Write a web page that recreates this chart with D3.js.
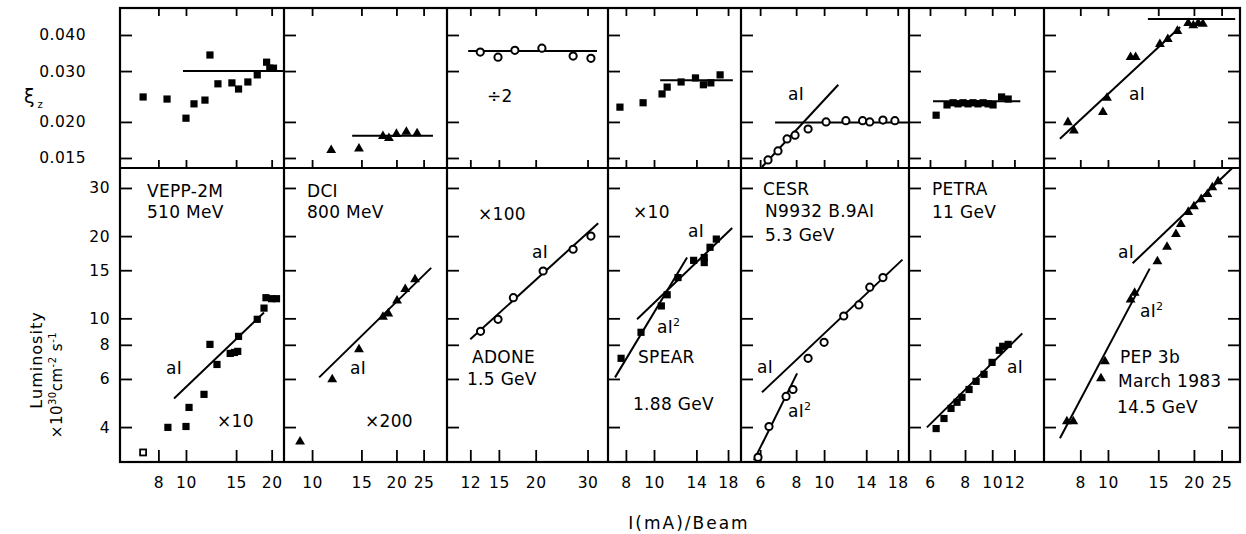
<!DOCTYPE html>
<html><head><meta charset="utf-8">
<script src="https://cdn.jsdelivr.net/npm/d3@7"></script>
<style>
body{margin:0;background:#fff}
svg{display:block}
text{font-family:"DejaVu Sans",sans-serif;fill:#000}
</style>
</head><body>
<svg id="c" width="1246" height="534"></svg>
<script>
// ---------------- DATA ----------------
const panelNames = ["VEPP-2M","DCI","ADONE","SPEAR","CESR","PETRA","PEP"];
const xDomains = [[5.96,22.1],[7.94,30.3],[10.0,35.2],[6.94,19.95],[5.15,19.7],[5.05,15.3],[5.97,29.0]];
const xTicks = [[8,10,15,20],[10,15,20,25],[12,15,20,30],[8,10,14,18],[6,8,10,14,18],[6,8,10,12],[8,10,15,20,25]];
const xiDomain = [0.01385,0.0496];
const xiTicks = [0.015,0.020,0.030,0.040];
const xiTickLabels = ["0.015","0.020","0.030","0.040"];
const lumDomain = [2.98,35.5];
const lumTicks = [4,6,8,10,15,20,30];
const markerTypes = ["square","triangle","circle","square","circle","square","triangle"];

// VEPP-2M
const veppXiI = [7.07,8.58,10.0,10.67,11.66,12.14,12.95,14.5,15.3,16.5,17.8,19.2,19.7,20.3];
const veppXi  = [0.0244,0.0240,0.0206,0.0231,0.0238,0.0341,0.0271,0.0273,0.0260,0.0275,0.0291,0.0322,0.0307,0.0307];
const veppLumI = [8.64,10.0,10.25,11.57,12.14,12.85,14.3,14.8,15.2,15.3,17.8,18.8,19.1,20.0,20.8];
const veppLum  = [3.99,4.02,4.72,5.27,8.03,6.78,7.44,7.50,7.57,8.59,9.92,10.9,11.9,11.8,11.8];
const veppOpenI = [7.07];
const veppOpen  = [3.23];
const veppXiFitI = [9.76,22.1],  veppXiFit = [0.030,0.030];
const veppLumFitI = [9.08,18.8], veppLumFit = [5.09,10.5];

// DCI
const dciXiI = [11.7,14.7,17.9,18.8,20.0,21.7,23.7];
const dciXi  = [0.0161,0.0163,0.0180,0.0177,0.0183,0.0186,0.0184];
const dciLumI = [9.06,11.8,14.7,17.9,18.7,20.1,21.5,23.3];
const dciLum  = [3.57,6.03,7.76,10.2,10.5,11.7,12.9,14.0];
const dciXiFitI = [13.9,27.0],  dciXiFit = [0.0179,0.0179];
const dciLumFitI = [10.6,26.6], dciLumFit = [6.08,15.3];

// ADONE
const adoneXiI = [12.97,14.9,17.0,21.0,26.8,30.8];
const adoneXi  = [0.0349,0.0335,0.0354,0.0360,0.0338,0.0332];
const adoneLumI = [13.0,14.9,16.8,21.2,26.8,30.8];
const adoneLum  = [8.96,9.92,11.9,14.9,17.9,20.0];
const adoneXiFitI = [11.8,32.3],  adoneXiFit = [0.0352,0.0352];
const adoneLumFitI = [12.0,32.6], adoneLumFit = [8.38,22.3];

// SPEAR
const spearXiI = [7.63,9.17,10.66,11.1,12.4,13.9,14.8,15.7,16.9];
const spearXi  = [0.0225,0.0233,0.0250,0.0264,0.0275,0.0284,0.0269,0.0273,0.0291];
const spearLumI = [7.70,9.02,10.6,11.1,12.1,13.7,14.9,14.9,15.6,16.4];
const spearLum  = [7.14,8.89,11.1,12.2,14.1,16.3,16.7,16.0,18.2,19.5];
const spearXiFitI = [10.5,18.7],    spearXiFit = [0.0279,0.0279];
const spearLumFitI = [8.74,18.6],   spearLumFit = [9.92,21.4];
const spearLumFit2I = [7.34,13.0],  spearLumFit2 = [6.08,16.7];

// CESR
const cesrXiI = [6.39,6.92,7.44,7.93,8.80,10.16,11.9,13.6,14.4,16.0,17.6];
const cesrXi  = [0.01477,0.01587,0.01746,0.0180,0.0189,0.0200,0.0202,0.0202,0.0200,0.0203,0.0202];
const cesrLumI = [5.90,6.44,7.38,7.80,8.80,10.0,11.7,13.2,14.4,16.0];
const cesrLum  = [3.10,4.02,5.18,5.49,7.14,8.17,10.2,11.2,13.0,14.1];
const cesrXiFitI = [6.76,19.7],    cesrXiFit = [0.0199,0.0199];
const cesrXiFit2I = [6.09,11.2],   cesrXiFit2 = [0.01396,0.0269];
const cesrLumFitI = [6.09,18.7],   cesrLumFit = [5.36,16.4];
const cesrLumFit2I = [5.71,8.06],  cesrLumFit2 = [3.02,6.29];

// PETRA
const petraXiI = [6.31,6.9,7.25,7.55,7.87,8.2,8.54,8.9,9.28,9.67,10.07,10.8,11.4];
const petraXi  = [0.0211,0.0229,0.0233,0.0231,0.0233,0.0231,0.0233,0.0231,0.0233,0.0231,0.0229,0.0244,0.0240];
const petraLumI = [6.31,6.73,7.13,7.49,7.80,8.27,8.76,9.35,9.99,10.6,10.9,11.4];
const petraLum  = [3.95,4.3,4.68,4.93,5.14,5.49,5.88,6.24,6.90,7.64,7.90,8.03];
const petraXiFitI = [6.15,12.6],  petraXiFit = [0.0236,0.0236];
const petraLumFitI = [5.85,12.8], petraLumFit = [3.99,8.81];

// PEP
const pepXiI = [7.24,7.60,9.60,9.92,12.0,12.5,15.2,16.2,17.5,19.1,19.9,20.7,21.5];
const pepXi  = [0.0201,0.0188,0.0218,0.0244,0.0338,0.0338,0.0375,0.0390,0.0416,0.0443,0.0435,0.0443,0.0440];
const pepLumI = [7.18,7.56,9.45,9.76,12.0,12.4,14.9,16.1,17.3,18.0,19.1,20.0,21.2,22.3,23.2,24.3];
const pepLum  = [4.23,4.23,6.08,7.02,11.8,12.5,16.3,18.4,20.5,22.3,24.7,25.9,27.5,28.7,30.4,32.0];
const pepXiFitI = [13.8,27.9],    pepXiFit = [0.0454,0.0454];
const pepXiFit2I = [6.79,17.9],   pepXiFit2 = [0.0175,0.0426];
const pepLumFitI = [12.2,27.2],   pepLumFit = [15.9,35.4];
const pepLumFit2I = [6.79,14.0],  pepLumFit2 = [3.64,15.2];

// ---------------- TABLE built from arrays ----------------
const zip = (a,b)=>a.map((d,i)=>[d,b[i]]);
const panels = [
 {xi:zip(veppXiI,veppXi), lum:zip(veppLumI,veppLum), open:zip(veppOpenI,veppOpen),
  xiFits:[zip(veppXiFitI,veppXiFit)], lumFits:[zip(veppLumFitI,veppLumFit)]},
 {xi:zip(dciXiI,dciXi), lum:zip(dciLumI,dciLum), open:[],
  xiFits:[zip(dciXiFitI,dciXiFit)], lumFits:[zip(dciLumFitI,dciLumFit)]},
 {xi:zip(adoneXiI,adoneXi), lum:zip(adoneLumI,adoneLum), open:[],
  xiFits:[zip(adoneXiFitI,adoneXiFit)], lumFits:[zip(adoneLumFitI,adoneLumFit)]},
 {xi:zip(spearXiI,spearXi), lum:zip(spearLumI,spearLum), open:[],
  xiFits:[zip(spearXiFitI,spearXiFit)], lumFits:[zip(spearLumFitI,spearLumFit),zip(spearLumFit2I,spearLumFit2)]},
 {xi:zip(cesrXiI,cesrXi), lum:zip(cesrLumI,cesrLum), open:[],
  xiFits:[zip(cesrXiFitI,cesrXiFit),zip(cesrXiFit2I,cesrXiFit2)], lumFits:[zip(cesrLumFitI,cesrLumFit),zip(cesrLumFit2I,cesrLumFit2)]},
 {xi:zip(petraXiI,petraXi), lum:zip(petraLumI,petraLum), open:[],
  xiFits:[zip(petraXiFitI,petraXiFit)], lumFits:[zip(petraLumFitI,petraLumFit)]},
 {xi:zip(pepXiI,pepXi), lum:zip(pepLumI,pepLum), open:[],
  xiFits:[zip(pepXiFitI,pepXiFit),zip(pepXiFit2I,pepXiFit2)], lumFits:[zip(pepLumFitI,pepLumFit),zip(pepLumFit2I,pepLumFit2)]}
];

// ---------------- LAYOUT ----------------
const L=120, R=1240, T=8, M=168, B=462;
const edges=[120,284,447,608,741,909,1044,1240];
const svg=d3.select("#c");
const yTop=d3.scaleLog().domain(xiDomain).range([M,T]);
const yBot=d3.scaleLog().domain(lumDomain).range([B,M]);

// annotations: [text, x, y, superscript]
const notes=[
 ["VEPP-2M",147,197],["510 MeV",147,218],["aI",166,374],["×10",217,427],
 ["DCI",307,197],["800 MeV",307,218],["aI",350,374],["×200",365,427],
 ["÷2",487,102],["×100",478,220],["aI",532,258],["ADONE",472,363],["1.5 GeV",467,385],
 ["×10",633,218],["aI",688,237],["aI",657,333,"2"],["SPEAR",638,363],["1.88 GeV",633,410],
 ["aI",788,100],["CESR",763,195],["N9932  B.9AI",765,217],["5.3 GeV",765,241],["aI",757,373],["aI",788,417,"2"],
 ["PETRA",932,195],["11 GeV",932,218],["aI",1007,373],
 ["aI",1129,100],["aI",1118,258],["aI",1140,317,"2"],["PEP 3b",1120,363],["March 1983",1118,387],["14.5 GeV",1117,413]
];

const line=(x,y)=>d3.line().x(d=>x(d[0])).y(d=>y(d[1]));

function drawMarkers(g,data,x,y,type,open){
  data.forEach(d=>{
    const cx=x(d[0]), cy=y(d[1]);
    if(open){
      g.append("rect").attr("x",cx-3).attr("y",cy-3).attr("width",6).attr("height",6)
       .attr("fill","#fff").attr("stroke","#000").attr("stroke-width",1.8);
    } else if(type==="square"){
      g.append("rect").attr("x",cx-3.6).attr("y",cy-3.6).attr("width",7.2).attr("height",7.2).attr("fill","#000");
    } else if(type==="triangle"){
      g.append("path").attr("transform",`translate(${cx},${cy+1})`)
       .attr("d",d3.symbol().type(d3.symbolTriangle).size(42)()).attr("fill","#000");
    } else {
      g.append("circle").attr("cx",cx).attr("cy",cy).attr("r",3.6)
       .attr("fill","#fff").attr("stroke","#000").attr("stroke-width",2);
    }
  });
}

panels.forEach((p,i)=>{
  const x=d3.scaleLog().domain(xDomains[i]).range([i===0?122:edges[i],edges[i+1]]);
  const g=svg.append("g");
  const ax=g.append("g").attr("transform",`translate(0,${B})`)
   .call(d3.axisBottom(x).tickValues(xTicks[i]).tickFormat(d3.format("d")).tickSizeInner(-12).tickSizeOuter(0).tickPadding(15));
  ax.select(".domain").remove();
  const at=g.append("g").attr("transform",`translate(0,${T})`)
   .call(d3.axisTop(x).tickValues(xTicks[i]).tickFormat("").tickSizeInner(-8).tickSizeOuter(0));
  at.select(".domain").remove();
  const am=g.append("g").attr("transform",`translate(0,${M})`)
   .call(d3.axisBottom(x).tickValues(xTicks[i]).tickFormat("").tickSizeInner(-8).tickSizeOuter(0));
  am.select(".domain").remove();
  const yl=g.append("g").attr("transform",`translate(${edges[i]},0)`)
   .call(d3.axisLeft(yTop).tickValues(xiTicks).tickFormat(i===0?((d,k)=>xiTickLabels[k]):"").tickSizeInner(-12).tickSizeOuter(0).tickPadding(34));
  yl.select(".domain").remove();
  const yb=g.append("g").attr("transform",`translate(${edges[i]},0)`)
   .call(d3.axisLeft(yBot).tickValues(lumTicks).tickFormat(i===0?d3.format("d"):"").tickSizeInner(-12).tickSizeOuter(0).tickPadding(10));
  yb.select(".domain").remove();
  if(i===panels.length-1){
    const yr=g.append("g").attr("transform",`translate(${R},0)`)
     .call(d3.axisRight(yTop).tickValues(xiTicks).tickFormat("").tickSizeInner(-12).tickSizeOuter(0));
    yr.select(".domain").remove();
    const yr2=g.append("g").attr("transform",`translate(${R},0)`)
     .call(d3.axisRight(yBot).tickValues(lumTicks).tickFormat("").tickSizeInner(-12).tickSizeOuter(0));
    yr2.select(".domain").remove();
  }
  g.selectAll(".tick line").attr("stroke","#000").attr("stroke-width",1.8);
  g.selectAll(".tick text").attr("font-size",15.5).attr("font-family","DejaVu Sans").attr("letter-spacing",0.5).attr("fill","#000");
  p.xiFits.forEach(f=>g.append("path").attr("d",line(x,yTop)(f)).attr("stroke","#000").attr("stroke-width",2).attr("fill","none"));
  p.lumFits.forEach(f=>g.append("path").attr("d",line(x,yBot)(f)).attr("stroke","#000").attr("stroke-width",2).attr("fill","none"));
  drawMarkers(g,p.xi,x,yTop,markerTypes[i],false);
  drawMarkers(g,p.lum,x,yBot,markerTypes[i],false);
  drawMarkers(g,p.open,x,yBot,markerTypes[i],true);
});

// frame
svg.append("rect").attr("x",L).attr("y",T).attr("width",R-L).attr("height",B-T)
 .attr("fill","none").attr("stroke","#000").attr("stroke-width",2.2);
svg.append("line").attr("x1",L).attr("x2",R).attr("y1",M).attr("y2",M).attr("stroke","#000").attr("stroke-width",2.2);
edges.slice(1,-1).forEach(e=>svg.append("line").attr("x1",e).attr("x2",e).attr("y1",T).attr("y2",B).attr("stroke","#000").attr("stroke-width",2.2));

// annotations
notes.forEach(n=>{
  const t=svg.append("text").attr("x",n[1]).attr("y",n[2]).attr("font-size",17).attr("letter-spacing",0.3);
  t.append("tspan").text(n[0]);
  if(n[3]) t.append("tspan").attr("dy",-7).attr("font-size",11).text(n[3]);
});

// axis titles
const xiT=svg.append("text").attr("x",24).attr("y",103).attr("font-size",19);
xiT.append("tspan").text("ξ");
xiT.append("tspan").attr("dy",5).attr("dx",3).attr("font-size",10).text("z");

svg.append("text").attr("transform","translate(42,360) rotate(-90)").attr("text-anchor","middle")
 .attr("font-size",16).attr("letter-spacing",1).text("Luminosity");
const lt=svg.append("text").attr("transform","translate(62,385) rotate(-90)").attr("text-anchor","middle")
 .attr("font-size",15).attr("letter-spacing",0.5);
lt.append("tspan").text("×10");
lt.append("tspan").attr("dy",-6).attr("font-size",10).text("30");
lt.append("tspan").attr("dy",6).text("cm");
lt.append("tspan").attr("dy",-6).attr("font-size",10).text("-2");
lt.append("tspan").attr("dy",6).text(" s");
lt.append("tspan").attr("dy",-6).attr("font-size",10).text("-1");

svg.append("text").attr("x",689).attr("y",529).attr("text-anchor","middle")
 .attr("font-size",17).attr("letter-spacing",2).text("I(mA)/Beam");
</script>
</body></html>
